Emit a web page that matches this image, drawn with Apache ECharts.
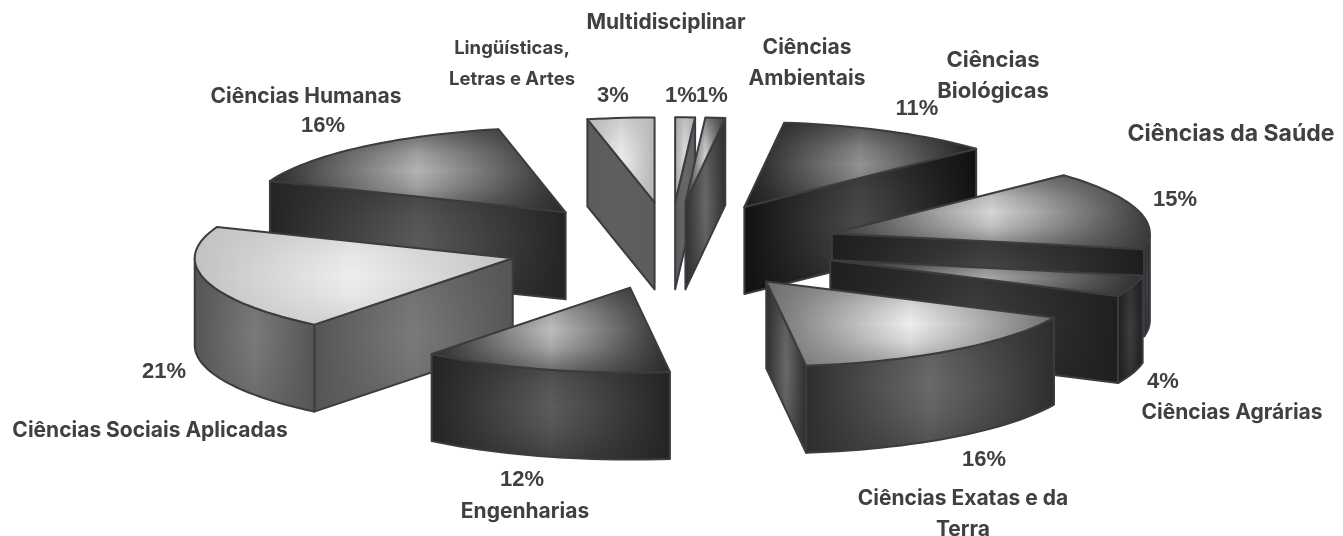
<!DOCTYPE html>
<html><head><meta charset="utf-8">
<style>html,body{margin:0;padding:0;background:#fff}#c{width:1343px;height:536px}</style>
<script src="https://cdn.jsdelivr.net/npm/echarts@6/dist/echarts.min.js"></script>
</head><body><div id="c"></div>
<script>
const categories = ['Multidisciplinar','Ciências Ambientais','Ciências Biológicas','Ciências da Saúde','Ciências Agrárias','Ciências Exatas e da Terra','Engenharias','Ciências Sociais Aplicadas','Ciências Humanas','Lingüísticas, Letras e Artes'];
const values = [1,1,11,15,4,16,12,21,16,3];

// projection of the exploded pie
const CX=670, CY=246, RX=318, RY=85, DEPTH=87;
const explodeBy=[.515,.515,.515,.53,.53,.515,.505,.515,.515,.515];
// boundary correction (degrees) at the end of each slice: the 3D view slightly distorts these two edges
const edgeShift=[0,0,0,0,0,0,2.6,0,-1.4,0];
const STROKE='#3b3b42';

// shading per slice: [top centre, top edge, wall centre, wall edge]
const shades = [
 ['#dedede','#a8a8a8','#686868','#5c5c5c'],
 ['#d4d4d4','#3c3c3c','#686868','#303030'],
 ['#939393','#1e1e1e','#4a4a4a','#111111'],
 ['#d6d6d6','#3a3a3a','#484848','#1e1e1e'],
 ['#a8a8a8','#2e2e2e','#3e3e3e','#1f1f1f'],
 ['#eeeeee','#6e6e6e','#6a6a6a','#2e2e2e'],
 ['#bdbdbd','#2c2c2c','#5c5c5c','#242424'],
 ['#eeeeee','#c2c2c2','#7a7a7a','#555555'],
 ['#b4b4b4','#2a2a2a','#5a5a5a','#242424'],
 ['#ececec','#b6b6b6','#5f5f5f','#5c5c5c']
];

const total = values.reduce((a,b)=>a+b,0);
let run=0;
const slices = values.map((v,i)=>{
  const a0=run/total*360; run+=v; const b0=run/total*360;
  const a=a0+(i?edgeShift[i-1]:0), b=b0+edgeShift[i];
  return {i,a,b,mid:(a0+b0)/2};
});
const drawOrder = slices.slice().sort((p,q)=>Math.cos(q.mid*Math.PI/180)-Math.cos(p.mid*Math.PI/180)).map(s=>s.i);

function hex2(c){const n=parseInt(c.slice(1),16);return [n>>16,(n>>8)&255,n&255];}
function rgba(hex,al){const n=hex2(hex);return `rgba(${n[0]},${n[1]},${n[2]},${al})`;}
function mix(c,e,t){const p=hex2(c),q=hex2(e);return `rgb(${p.map((v,k)=>Math.round(v+(q[k]-v)*t)).join(',')})`;}
function hGrad(c,e){return {type:'linear',x:0,y:0,x2:1,y2:0,colorStops:[{offset:0,color:e},{offset:.2,color:mix(c,e,.6)},{offset:.5,color:c},{offset:.8,color:mix(c,e,.6)},{offset:1,color:e}]};}
function vGrad(e,al){return {type:'linear',x:0,y:0,x2:0,y2:1,colorStops:[{offset:0,color:rgba(e,al)},{offset:.3,color:rgba(e,al*.25)},{offset:.5,color:rgba(e,0)},{offset:.7,color:rgba(e,al*.25)},{offset:1,color:rgba(e,al)}]};}
function face(pts,c,e,al){
  return [
    {type:'polygon',shape:{points:pts},silent:true,style:{fill:hGrad(c,e)}},
    {type:'polygon',shape:{points:pts},silent:true,style:{fill:vGrad(e,al),stroke:STROKE,lineWidth:2,lineJoin:'round'}}
  ];
}
function renderItem(params,api){
  const s=slices[api.value(0)], col=shades[s.i], rad=Math.PI/180, ex=explodeBy[s.i];
  const ax=CX+ex*RX*Math.sin(s.mid*rad), ay=CY-ex*RY*Math.cos(s.mid*rad);
  const rim=t=>[ax+RX*Math.sin(t*rad),ay-RY*Math.cos(t*rad)];
  const down=p=>[p[0],p[1]+DEPTH];
  const arc=(a,b)=>{const n=Math.max(2,Math.ceil((b-a)/2)),o=[];for(let k=0;k<=n;k++)o.push(rim(a+(b-a)*k/n));return o;};
  const kids=[];
  const apex=[ax,ay];
  // side walls, drawn when their outward normal faces the viewer
  if(Math.cos((s.a-90)*rad)<-1e-6){const r=rim(s.a);kids.push(...face([apex,r,down(r),down(apex)],col[2],col[3],.5));}
  if(Math.cos((s.b+90)*rad)<-1e-6){const r=rim(s.b);kids.push(...face([apex,r,down(r),down(apex)],col[2],col[3],.5));}
  const lo=Math.max(s.a,90),hi=Math.min(s.b,270);
  if(hi>lo){const t=arc(lo,hi);kids.push(...face(t.concat(t.map(down).reverse()),col[2],col[3],.5));}
  kids.push(...face([apex].concat(arc(s.a,s.b)),col[0],col[1],.6));
  return {type:'group',children:kids};
}

// label text and placement
const labelLines = [['Multidisciplinar'],['Ciências','Ambientais'],['Ciências','Biológicas'],['Ciências da Saúde'],['Ciências Agrárias'],['Ciências Exatas e da','Terra'],['Engenharias'],['Ciências Sociais Aplicadas'],['Ciências Humanas'],['Lingüísticas,','Letras e Artes']];
const labelAt = [[666,23,21],[807,48,21],[993,60,22],[1231,134,23],[1232,413,21],[963,499,21],[525,512,21],[150,431,21],[306,97,21],[512,48,18.5]];
const pctAt = [[681,96],[712,96],[917,109],[1175,200],[1163,382],[984,460],[522,480],[164,372],[323,126],[613,96]];
const LINE=31;
const graphics=[];
labelLines.forEach((lines,i)=>{
  const p=labelAt[i];
  lines.forEach((t,k)=>graphics.push({type:'text',x:p[0],y:p[1]+k*LINE,silent:true,z:10,style:{text:t,x:0,y:0,align:'center',verticalAlign:'middle',fill:'#404040',font:`bold ${p[2]}px Inter, sans-serif`}}));
  graphics.push({type:'text',x:pctAt[i][0],y:pctAt[i][1],silent:true,z:10,style:{text:values[i]+'%',x:0,y:0,align:'center',verticalAlign:'middle',fill:'#404040',font:'bold 22px "Liberation Sans", Arial, sans-serif'}});
});

const chart=echarts.init(document.getElementById('c'),null,{renderer:'canvas'});
chart.setOption({
  animation:false,
  backgroundColor:'#fff',
  graphic:{elements:graphics},
  series:[{type:'custom',coordinateSystem:'none',silent:true,renderItem,data:drawOrder.map(i=>[i]),encode:{}}]
});
</script></body></html>
